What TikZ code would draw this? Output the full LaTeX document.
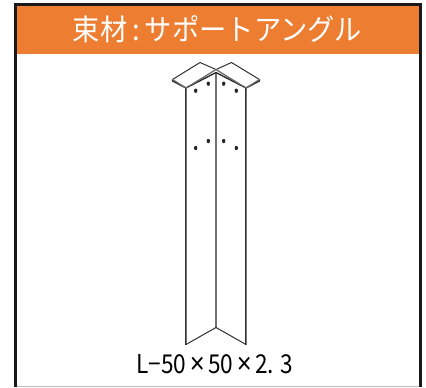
\documentclass[tikz,border=0pt]{standalone}
\usepackage{fontspec}
\newfontfamily\cjk{Noto Sans CJK JP}
\newfontfamily\znak{Liberation Sans}
\newcommand{\krat}{\kern3pt{\znak\fontsize{22}{22}\selectfont ×}\kern3pt}
\definecolor{hlavicka}{RGB}{237,125,49}
\tikzset{
  hrana/.style={line width=0.7pt, black!85, line join=round},
  hrana2/.style={line width=2pt, black!80},
  jadro/.style={line width=0.6pt, black!55},
  otvor/.style={fill=black!85, draw=none},
}
\begin{document}
\begin{tikzpicture}[x=0.75pt, y=-0.75pt]
\useasboundingbox (0,0) rectangle (426,387);

  % Body profilu
\coordinate (L) at (186,88);
\coordinate (S) at (216,72.5);
\coordinate (R) at (246,88);
\coordinate (L0) at (186,344.5);
\coordinate (S0) at (216,327.5);
\coordinate (R0) at (246,344.5);
\coordinate (LK) at (172.5,79.5);
\coordinate (LK1) at (172.5,81);
\coordinate (LZ) at (200,62.5);
\coordinate (RK) at (259.5,79.5);
\coordinate (RK1) at (259.5,81);
\coordinate (RZ) at (231.5,62.5);
\coordinate (SH) at (216,69.5);

% Ramecek a hlavicka
\fill[hlavicka] (16,5) rectangle (420,53.5);
\draw[black!25, line width=0.75pt] (16,386) -- (420,386);
\draw[black!90, line width=2pt] (15.2,387) -- (15.2,4.2) -- (420.5,4.2) -- (420.5,387);
\node[text=white, font=\cjk\fontsize{22}{24}\selectfont, xscale=0.93] (nadpis) at (217.5,29) {束材\kern4pt:\kern4pt サポートアングル};

% Hrany profilu
\draw[hrana2] (L) -- (L0);
\draw[hrana2] (R) -- (R0);
\draw[line width=1.6pt, black!55] (S) -- (S0);
\draw[jadro] (L) -- (L0);
\draw[jadro] (R) -- (R0);
\draw[hrana] (L0) -- (S0) -- (R0);

% Horni desky
\fill[white] (LK) -- (LZ) -- (SH) -- (L) -- cycle;
\fill[white] (RK) -- (RZ) -- (SH) -- (R) -- cycle;
\draw[hrana] (LK) -- (LZ) -- (SH) -- (RZ) -- (RK);
\draw[hrana, line width=1pt] (LK) -- (LK1) -- (L) -- (S) -- (R) -- (RK1) -- (RK);
\draw[hrana, line width=0.9pt, black!60] (LK) -- (L);
\draw[hrana, line width=0.9pt, black!60] (RK) -- (R);
\draw[hrana, line width=0.9pt, black!60] (SH) -- (L);
\draw[hrana, line width=0.9pt, black!60] (SH) -- (R);

% Otvory
\foreach \hx/\hy in {195.7/90.7, 208.3/83.7, 223.7/83.7, 236.3/90.7, 208.3/141, 195.7/148, 223.7/141, 236.3/148}
  \fill[otvor] (\hx,\hy) ellipse [x radius=1.7, y radius=2.2];

% Popisek
\node[font=\cjk\fontsize{19.5}{22}\selectfont, xscale=0.87, inner sep=0pt] (rozmer) at (215,364) {L−50\krat 50\krat 2. 3};
\end{tikzpicture}
\end{document}
